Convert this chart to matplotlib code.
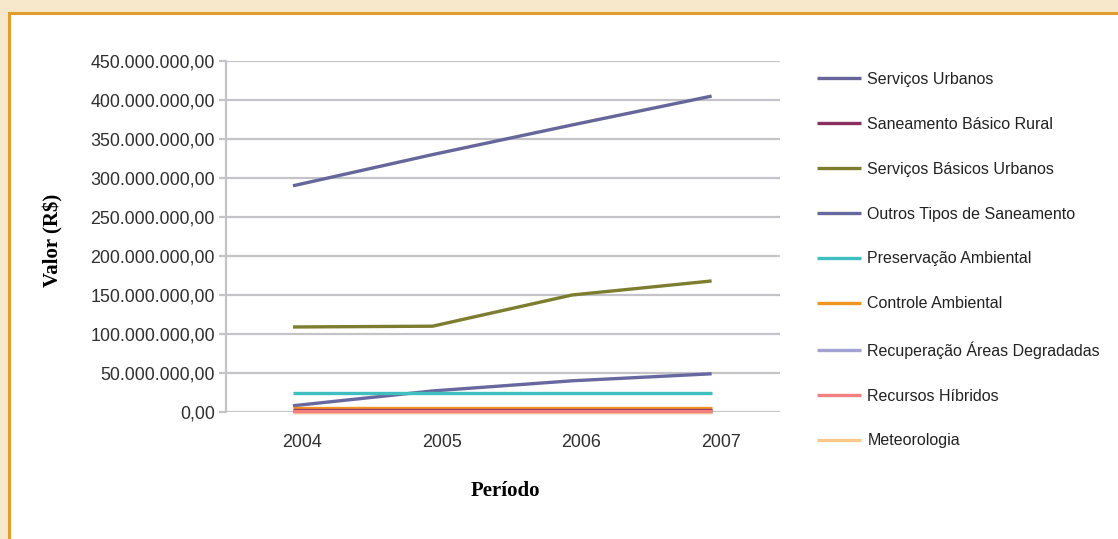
import matplotlib
matplotlib.use("Agg")
import matplotlib.pyplot as plt
import matplotlib.transforms as mtransforms
from matplotlib.patches import Rectangle
from matplotlib.ticker import FuncFormatter, MultipleLocator

# Investimentos em saneamento e meio ambiente por ano (R$)
anos = ["2004", "2005", "2006", "2007"]

servicos_urbanos = [290e6, 330e6, 368e6, 405e6]
saneamento_rural = [3e6, 3e6, 3e6, 3e6]
servicos_basicos_urbanos = [109e6, 110e6, 150e6, 168e6]
outros_saneamento = [8e6, 27e6, 40e6, 49e6]
preservacao_ambiental = [25e6, 25e6, 25e6, 25e6]
controle_ambiental = [5e6, 5e6, 5e6, 5e6]
recuperacao_areas = [0.5e6, 0.5e6, 0.5e6, 0.5e6]
recursos_hidricos = [1e6, 1e6, 1e6, 1e6]
meteorologia = [0.3e6, 0.3e6, 0.3e6, 0.3e6]

series = [
    ("Serviços Urbanos", servicos_urbanos, "#66669a"),
    ("Saneamento Básico Rural", saneamento_rural, "#8b2f5e"),
    ("Serviços Básicos Urbanos", servicos_basicos_urbanos, "#7d7d30"),
    ("Outros Tipos de Saneamento", outros_saneamento, "#6868a0"),
    ("Preservação Ambiental", preservacao_ambiental, "#3fbfbf"),
    ("Controle Ambiental", controle_ambiental, "#f29421"),
    ("Recuperação Áreas Degradadas", recuperacao_areas, "#a3a3d3"),
    ("Recursos Híbridos", recursos_hidricos, "#f28080"),
    ("Meteorologia", meteorologia, "#fcc98c"),
]

plt.rcParams["font.family"] = ["Liberation Sans", "DejaVu Sans"]

fig = plt.figure(figsize=(11.18, 5.39), dpi=100)
fig.patch.set_facecolor("#f8e8cb")

# white panel with an orange edge
W, H = 1118, 539
fig.patches.append(Rectangle((8.5 / W, -0.1), 1.2, (H - 13) / H + 0.1,
                             transform=fig.transFigure, facecolor="white",
                             edgecolor="#df9e2c", linewidth=2.2, zorder=-5))

ax = fig.add_axes([226 / W, 1 - 412 / H, (780 - 226) / W, (412 - 61) / H])
ax.set_zorder(2)
x = list(range(len(anos)))

# draw from back to front so the small series stay visible at the bottom
order = [0, 2, 3, 4, 6, 8, 5, 1, 7]
handles = {}
for i in order:
    nome, vals, cor = series[i]
    ln, = ax.plot(x, vals, color=cor, linewidth=2.4, label=nome,
                  solid_capstyle="butt", clip_on=False, zorder=3 + order.index(i))
    handles[i] = ln

ax.set_xlim(-0.48, 3.49)
ax.set_ylim(0, 450e6)
ax.yaxis.set_major_locator(MultipleLocator(50e6))


def fmt(v, pos):
    s = f"{v:,.2f}"
    return s.replace(",", "X").replace(".", ",").replace("X", ".")


ax.yaxis.set_major_formatter(FuncFormatter(fmt))
ax.set_xticks(x)
ax.set_xticklabels(anos)
ax.grid(axis="y", color="#c4c4c8", linewidth=1.6, zorder=1)
ax.set_axisbelow(True)
for s in ["top", "right", "bottom"]:
    ax.spines[s].set_visible(False)
ax.spines["left"].set_color("#c4c4c8")
ax.spines["left"].set_linewidth(1.6)
ax.tick_params(axis="y", length=5, width=1.6, color="#c4c4c8",
               labelsize=12.9, labelcolor="#303030", pad=3)
ax.tick_params(axis="x", length=0, labelsize=12.9, labelcolor="#303030", pad=16)
offset = mtransforms.ScaledTranslation(9 / 100, 0, fig.dpi_scale_trans)
for lab in ax.get_xticklabels():
    lab.set_transform(lab.get_transform() + offset)

fig.text(53 / W, 1 - 240 / H, "Valor (R$)", rotation=90, ha="center", va="center",
         fontsize=15, fontweight="bold", family=["Liberation Serif", "DejaVu Serif"])
fig.text(505 / W, 1 - 491 / H, "Período", ha="center", va="center",
         fontsize=15, fontweight="bold", family=["Liberation Serif", "DejaVu Serif"])

fig.legend([handles[i] for i in range(len(series))], [s[0] for s in series],
           loc="upper left", bbox_to_anchor=(817 / W, 1 - 72 / H),
           frameon=False, fontsize=11.5, handlelength=2.75, handletextpad=0.4,
           labelspacing=1.87, borderpad=0, borderaxespad=0, labelcolor="#222222")

fig.savefig("out.png", dpi=100)
